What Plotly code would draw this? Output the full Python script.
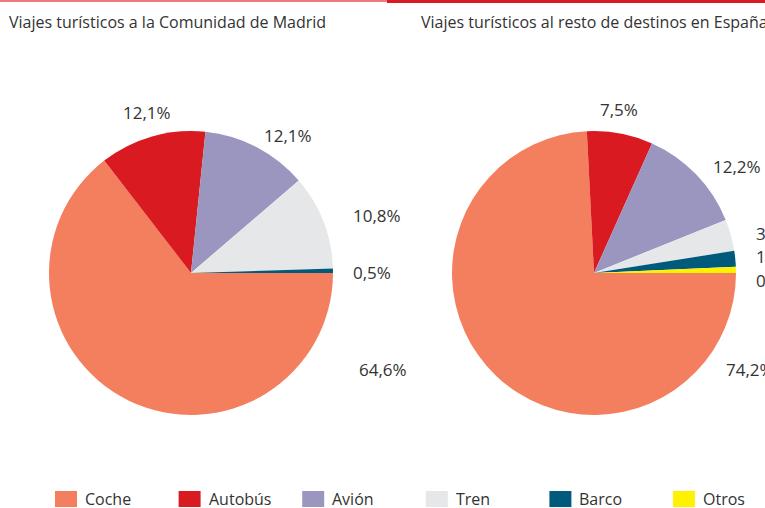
import plotly.graph_objects as go

W, H = 765, 508

labels = ["Coche", "Autobús", "Avión", "Tren", "Barco", "Otros"]
madrid = [64.6, 12.1, 12.1, 10.8, 0.5, 0.0]
espana = [74.2, 7.5, 12.2, 3.6, 1.8, 0.7]
madrid_text = ["64,6%", "12,1%", "12,1%", "10,8%", "0,5%", ""]
espana_text = ["74,2%", "7,5%", "12,2%", "3,6%", "1,8%", "0,7%"]
colors = ["#F47F5F", "#D91A21", "#9A96BF", "#E6E7E8", "#005A7C", "#FFF200"]

titles = ["Viajes turísticos a la Comunidad de Madrid",
          "Viajes turísticos al resto de destinos en España"]

FONT = "Open Sans"
TXT = "#333333"

# pie geometry in pixels (layout)
R = 142
centers = [(191, 273), (594, 273)]


def px(x):
    return x / W


def py(y):
    return 1 - y / H


def dom(c):
    cx, cy = c
    return dict(x=[px(cx - R), px(cx + R)], y=[py(cy + R), py(cy - R)])


fig = go.Figure()
for vals, c in [(madrid, centers[0]), (espana, centers[1])]:
    fig.add_trace(go.Pie(
        labels=labels, values=vals, sort=False, direction="clockwise", rotation=90,
        marker=dict(colors=colors, line=dict(width=0)),
        textinfo="none", hoverinfo="label+percent", domain=dom(c), showlegend=False,
    ))

# label placement (layout, pixel coords of label anchor)
label_pos_madrid = [(357, 369, "left"), (147, 112, "center"), (288, 135, "center"),
                    (351, 215, "left"), (351, 272, "left"), None]
label_pos_espana = [(724, 369, "left"), (619, 109, "center"), (711, 166, "left"),
                    (754, 233, "left"), (754, 256, "left"), (754, 280, "left")]

annotations = []
for texts, poss in [(madrid_text, label_pos_madrid), (espana_text, label_pos_espana)]:
    for t, p in zip(texts, poss):
        if p is None or not t:
            continue
        x, y, anc = p
        annotations.append(dict(x=px(x), y=py(y), xref="paper", yref="paper", text=t,
                                showarrow=False, xanchor=anc, yanchor="middle",
                                font=dict(family=FONT, size=17, color=TXT)))

for t, x in zip(titles, [7, 419]):
    annotations.append(dict(x=px(x), y=py(22), xref="paper", yref="paper", text=t,
                            showarrow=False, xanchor="left", yanchor="middle",
                            font=dict(family=FONT, size=16, color=TXT)))

shapes = [
    dict(type="line", xref="paper", yref="paper", x0=0, x1=px(387), y0=py(1), y1=py(1),
         line=dict(color="#EC7B7E", width=2)),
    dict(type="line", xref="paper", yref="paper", x0=px(387), x1=1, y0=py(1.5), y1=py(1.5),
         line=dict(color="#D91A21", width=3)),
]

# custom legend (layout): colored squares + labels
LEG_X0, LEG_STEP, LEG_Y = 55, 123.6, 499
for i, (lab, col) in enumerate(zip(labels, colors)):
    x0 = LEG_X0 + i * LEG_STEP
    shapes.append(dict(type="rect", xref="paper", yref="paper",
                       x0=px(x0), x1=px(x0 + 22), y0=py(LEG_Y + 8), y1=py(LEG_Y - 8),
                       fillcolor=col, line=dict(width=0)))
    annotations.append(dict(x=px(x0 + 28), y=py(LEG_Y), xref="paper", yref="paper", text=lab,
                            showarrow=False, xanchor="left", yanchor="middle",
                            font=dict(family=FONT, size=16, color=TXT)))

fig.update_layout(
    width=W, height=H, margin=dict(l=0, r=0, t=0, b=0, autoexpand=False),
    paper_bgcolor="white", plot_bgcolor="white",
    font=dict(family=FONT, size=16, color=TXT),
    annotations=annotations, shapes=shapes, showlegend=False,
)

fig.write_html("out.html", config={"displayModeBar": False},
               post_script="document.body.style.margin='0px';")
